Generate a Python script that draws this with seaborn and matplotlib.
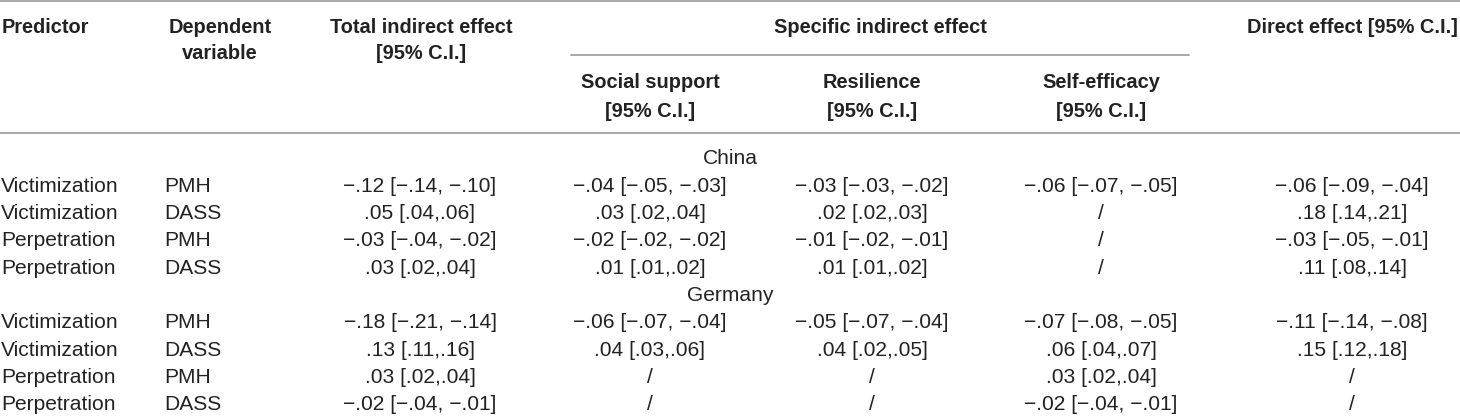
import pandas as pd
import matplotlib.pyplot as plt
import seaborn as sns

# table values
groups = ['China', 'Germany']
predictors = ['Victimization', 'Victimization', 'Perpetration', 'Perpetration'] * 2
dependents = ['PMH', 'DASS', 'PMH', 'DASS'] * 2
total_indirect = ['−.12 [−.14, −.10]', '.05 [.04,.06]', '−.03 [−.04, −.02]', '.03 [.02,.04]',
                  '−.18 [−.21, −.14]', '.13 [.11,.16]', '.03 [.02,.04]', '−.02 [−.04, −.01]']
social_support = ['−.04 [−.05, −.03]', '.03 [.02,.04]', '−.02 [−.02, −.02]', '.01 [.01,.02]',
                  '−.06 [−.07, −.04]', '.04 [.03,.06]', '/', '/']
resilience = ['−.03 [−.03, −.02]', '.02 [.02,.03]', '−.01 [−.02, −.01]', '.01 [.01,.02]',
              '−.05 [−.07, −.04]', '.04 [.02,.05]', '/', '/']
self_efficacy = ['−.06 [−.07, −.05]', '/', '/', '/',
                 '−.07 [−.08, −.05]', '.06 [.04,.07]', '.03 [.02,.04]', '−.02 [−.04, −.01]']
direct = ['−.06 [−.09, −.04]', '.18 [.14,.21]', '−.03 [−.05, −.01]', '.11 [.08,.14]',
          '−.11 [−.14, −.08]', '.15 [.12,.18]', '/', '/']

df = pd.DataFrame({'Predictor': predictors, 'Dependent': dependents,
                   'Total': total_indirect, 'Social': social_support,
                   'Resilience': resilience, 'Self': self_efficacy, 'Direct': direct})
df['Group'] = [groups[0]] * 4 + [groups[1]] * 4

sns.set_theme(style='white')
plt.rcParams['font.family'] = ['Liberation Sans', 'DejaVu Sans']

W, H = 1460, 417
fig = plt.figure(figsize=(W / 100, H / 100), dpi=100)
ax = fig.add_axes([0, 0, 1, 1])
ax.set_xlim(0, W)
ax.set_ylim(H, 0)
ax.axis('off')

txt = '#222222'
line_col = '#a0a0a0'
hdr = dict(fontsize=14.4, fontweight='bold', color=txt, va='center')
body = dict(fontsize=15.1, color=txt, va='center')

# rules
ax.plot([0, W], [1, 1], color=line_col, lw=1.3)
ax.plot([571, 1189], [55, 55], color=line_col, lw=1.3)
ax.plot([0, W], [133, 133], color=line_col, lw=1.3)

# header
ax.text(2, 27, 'Predictor', ha='left', **hdr)
ax.text(220, 27, 'Dependent', ha='center', **hdr)
ax.text(220, 53, 'variable', ha='center', **hdr)
ax.text(421, 27, 'Total indirect effect', ha='center', **hdr)
ax.text(421, 53, '[95% C.I.]', ha='center', **hdr)
ax.text(880, 27, 'Specific indirect effect', ha='center', **hdr)
ax.text(1352, 27, 'Direct effect [95% C.I.]', ha='center', **hdr)
for xc, name in zip([650, 872, 1101], ['Social support', 'Resilience', 'Self-efficacy']):
    ax.text(xc, 82, name, ha='center', **hdr)
    ax.text(xc, 111, '[95% C.I.]', ha='center', **hdr)

# body
col_x = {'Total': 420, 'Social': 650, 'Resilience': 872, 'Self': 1101, 'Direct': 1352}
y0, pitch = 159, 27.3
row = 0
for g in groups:
    ax.text(730, y0 + row * pitch, g, ha='center', **body)
    row += 1
    for _, r in df[df['Group'] == g].iterrows():
        y = y0 + row * pitch
        ax.text(1, y, r['Predictor'], ha='left', **body)
        ax.text(164, y, r['Dependent'], ha='left', **body)
        for c, xc in col_x.items():
            ax.text(xc, y, r[c], ha='center', **body)
        row += 1

fig.savefig('out.png', dpi=100, facecolor='white')
plt.close()
